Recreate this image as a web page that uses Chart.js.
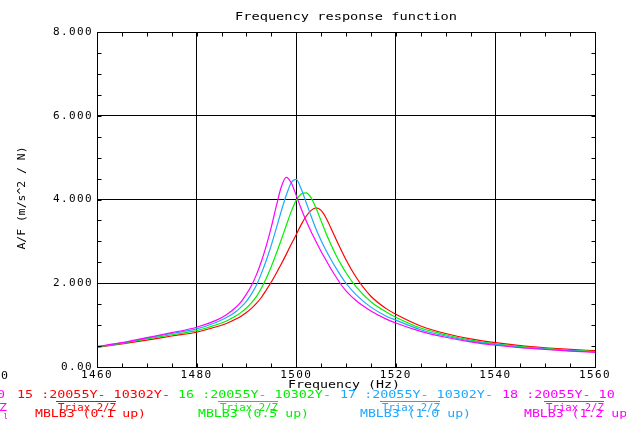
<!DOCTYPE html>
<html><head><meta charset="utf-8">
<script src="https://cdn.jsdelivr.net/npm/chart.js@4.4.1/dist/chart.umd.min.js"></script>
<style>html,body{margin:0;padding:0;background:#fff;overflow:hidden}#c{display:block}</style>
</head><body>
<canvas id="c" width="626" height="425"></canvas>
<script>
// ---- data ----
const freqs = [1460,1465,1470,1475,1480,1484,1486,1488,1489,1490,1491,1492,1493,1494,1495,1496,1497,1498,1499,1500,1501,1502,1503,1504,1505,1506,1507,1508,1509,1510,1512,1515,1518,1520,1525,1530,1535,1540,1545,1550,1555,1560];
const red01 = [0.47,0.55,0.64,0.74,0.83,0.96,1.04,1.15,1.22,1.30,1.40,1.52,1.66,1.84,2.03,2.24,2.46,2.69,2.93,3.16,3.40,3.60,3.74,3.80,3.74,3.56,3.31,3.05,2.80,2.56,2.15,1.69,1.40,1.26,0.98,0.80,0.67,0.58,0.51,0.46,0.42,0.39];
const green05 = [0.48,0.565,0.67,0.77,0.87,1.01,1.10,1.23,1.31,1.41,1.53,1.68,1.88,2.12,2.40,2.71,3.04,3.38,3.71,3.98,4.13,4.16,4.04,3.79,3.49,3.19,2.92,2.67,2.45,2.25,1.92,1.56,1.32,1.19,0.93,0.77,0.64,0.55,0.49,0.44,0.40,0.37];
const blue10 = [0.485,0.575,0.69,0.80,0.91,1.07,1.18,1.33,1.44,1.57,1.74,1.95,2.23,2.55,2.91,3.31,3.72,4.10,4.40,4.48,4.25,3.93,3.60,3.29,3.02,2.78,2.56,2.36,2.17,2.00,1.73,1.43,1.22,1.12,0.89,0.74,0.62,0.54,0.47,0.43,0.39,0.36];
const magenta12 = [0.49,0.58,0.70,0.82,0.95,1.12,1.25,1.44,1.57,1.74,1.94,2.20,2.52,2.90,3.34,3.84,4.30,4.53,4.40,4.10,3.78,3.49,3.23,2.99,2.76,2.55,2.34,2.15,1.97,1.82,1.59,1.34,1.15,1.05,0.85,0.71,0.60,0.52,0.46,0.42,0.38,0.35];
const seriesLabels = ['MBLB3 (0.1 up)','MBLB3 (0.5 up)','MBLB3 (1.0 up)','MBLB3 (1.2 up)'];
const runIds = ['15','16','17','18'];
const runCode = ':20055Y- 10302Y-';
const channel = 'Triax 2/Z';
const xTicks = [1460,1480,1500,1520,1540,1560];
const yTicks = [0,2,4,6,8];
const yTickLabels = ['0.00','2.000','4.000','6.000','8.000'];
const titleText = 'Frequency response function';
const xTitle = 'Frequency (Hz)';
const yTitle = 'A/F (m/s^2 / N)';

// ---- styling ----
const colors = ['#ff0000','#00f000','#1ea8ff','#ff00ff'];
const FONT = '11px "DejaVu Sans Mono"';
const seriesValues = [red01, green05, blue10, magenta12];

function fitText(ctx, str, x, y, w, align) {
  const m = ctx.measureText(str).width;
  const s = w / m;
  ctx.save(); ctx.translate(x, y); ctx.scale(s, 1);
  ctx.textAlign = 'left';
  ctx.fillText(str, align === 'center' ? -m / 2 : 0, 0);
  ctx.restore();
}

const frfPlugin = {
  id: 'frf',
  beforeDraw(chart) {
    const ctx = chart.ctx;
    ctx.save(); ctx.fillStyle = '#fff'; ctx.fillRect(0, 0, chart.width, chart.height); ctx.restore();
    if ('letterSpacing' in ctx) ctx.letterSpacing = '1.4px';
  },
  afterDraw(chart) {
    const ctx = chart.ctx, a = chart.chartArea, xs = chart.scales.x, ys = chart.scales.y;
    if ('letterSpacing' in ctx) ctx.letterSpacing = '0px';
    const al = p => Math.round(p) + 0.5;
    ctx.save();
    ctx.strokeStyle = '#000'; ctx.lineWidth = 1;
    const L = al(a.left), R = al(a.right), T = al(a.top), B = al(a.bottom);
    ctx.beginPath();
    ctx.rect(L, T, R - L, B - T);
    const tl = 4;
    xs.ticks.forEach(t => {
      const p = al(xs.getPixelForValue(t.value));
      ctx.moveTo(p, B); ctx.lineTo(p, B - tl);
      ctx.moveTo(p, T); ctx.lineTo(p, T + tl);
    });
    ys.ticks.forEach(t => {
      const p = al(ys.getPixelForValue(t.value));
      ctx.moveTo(L, p); ctx.lineTo(L + tl, p);
      ctx.moveTo(R, p); ctx.lineTo(R - tl, p);
    });
    ctx.stroke();

    ctx.font = FONT; ctx.textBaseline = 'alphabetic';
    ctx.fillStyle = '#000';
    fitText(ctx, titleText, (a.left + a.right) / 2, 20, 222, 'center');
    fitText(ctx, xTitle, 344, 388, 112, 'center');
    fitText(ctx, '0', 1, 379, 7, 'left');
    ctx.save(); ctx.translate(25, 198); ctx.rotate(-Math.PI / 2);
    fitText(ctx, yTitle, 0, 0, 103, 'center');
    ctx.restore();

    // legend block (bottom)
    const x1 = [17, 178, 340, 502], x2 = [58, 220, 382, 546], x3 = [35, 198, 360, 524];
    ctx.fillStyle = colors[3];
    fitText(ctx, '0', -3, 398, 8, 'left');
    fitText(ctx, 'Z', -1, 411, 8, 'left');
    fitText(ctx, 'ι', 3, 419, 5, 'left');
    for (let i = 0; i < 4; i++) {
      ctx.fillStyle = colors[i]; ctx.strokeStyle = colors[i];
      let s1 = runIds[i] + ' ' + runCode;
      const cw = 8.05;
      const maxChars = Math.floor((620 - x1[i]) / cw);
      if (s1.length > maxChars) s1 = s1.slice(0, maxChars);
      fitText(ctx, s1, x1[i], 398, cw * s1.length, 'left');
      fitText(ctx, channel, x2[i], 411, 58, 'left');
      ctx.beginPath(); ctx.moveTo(x2[i] - 2, 401.5); ctx.lineTo(x2[i] + 58, 401.5); ctx.lineWidth = 1; ctx.stroke();
      fitText(ctx, seriesLabels[i], x3[i], 417, 111, 'left');
    }
    ctx.restore();
  }
};

const datasets = seriesValues.map((vals, i) => ({
  label: seriesLabels[i],
  data: freqs.map((f, k) => ({ x: f, y: vals[k] })),
  borderColor: colors[i],
  borderWidth: 1.2,
  pointRadius: 0,
  fill: false,
  cubicInterpolationMode: 'monotone',
  order: 4 - i
}));

new Chart(document.getElementById('c'), {
  type: 'line',
  data: { datasets },
  plugins: [frfPlugin],
  options: {
    responsive: false,
    animation: false,
    devicePixelRatio: 1,
    layout: { padding: { left: 0, right: 31, top: 32, bottom: 0 } },
    plugins: { legend: { display: false }, title: { display: false }, tooltip: { enabled: false } },
    scales: {
      x: {
        type: 'linear', min: 1460, max: 1560, position: 'bottom',
        afterFit: s => { s.height = 58; },
        border: { display: false },
        grid: {
          drawTicks: false, lineWidth: 1,
          color: c => (c.tick && c.tick.value % 20 === 0 && c.tick.value > 1460 && c.tick.value < 1560) ? '#000' : 'rgba(0,0,0,0)'
        },
        ticks: {
          stepSize: 5, autoSkip: false, maxRotation: 0, minRotation: 0, padding: 2,
          color: '#000', font: { family: 'DejaVu Sans Mono', size: 11 },
          callback: v => xTicks.includes(v) ? String(v) : ''
        }
      },
      y: {
        type: 'linear', min: 0, max: 8,
        afterFit: s => { s.width = 97; },
        border: { display: false },
        grid: {
          drawTicks: false, lineWidth: 1,
          color: c => (c.tick && c.tick.value % 2 === 0 && c.tick.value > 0 && c.tick.value < 8) ? '#000' : 'rgba(0,0,0,0)'
        },
        ticks: {
          stepSize: 0.5, autoSkip: false, padding: 4,
          color: '#000', font: { family: 'DejaVu Sans Mono', size: 11 },
          callback: v => { const i = yTicks.indexOf(v); return i >= 0 ? yTickLabels[i] : ''; }
        }
      }
    }
  }
});
</script>
</body></html>
